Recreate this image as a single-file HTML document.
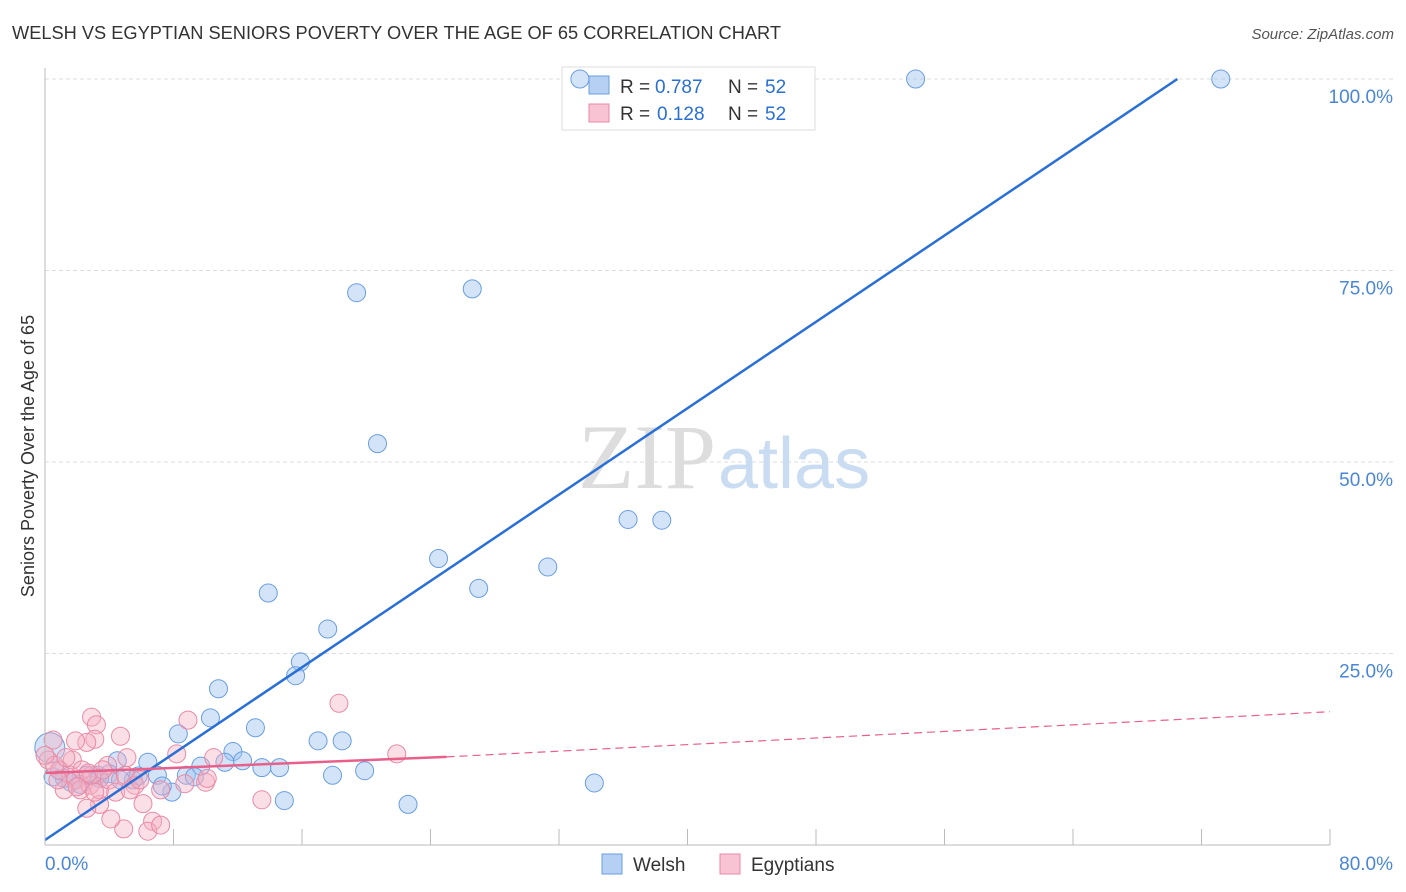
<!DOCTYPE html>
<html><head><meta charset="utf-8"><style>
body{margin:0;background:#fff;font-family:"Liberation Sans",sans-serif}
</style></head><body>
<svg width="1406" height="892" xmlns="http://www.w3.org/2000/svg" style="display:block" font-family="Liberation Sans, sans-serif" id="chart">
<text x="12" y="39" font-size="18" fill="#333" textLength="769" lengthAdjust="spacingAndGlyphs">WELSH VS EGYPTIAN SENIORS POVERTY OVER THE AGE OF 65 CORRELATION CHART</text>
<text x="1394" y="39" font-size="15" fill="#555" font-style="italic" text-anchor="end">Source: ZipAtlas.com</text>
<g id="grid"></g>
<text x="716" y="488" font-size="92" fill="#ddd" text-anchor="end" font-family="Liberation Serif, serif">ZIP</text>
<text x="718" y="488" font-size="72" fill="#c9dcf2">atlas</text>
<g>
<rect x="562" y="67" width="253" height="63" fill="#fff" stroke="#ddd"/>
<rect x="589" y="76" width="20" height="18" fill="#b5d0f3" stroke="#6a9ee0"/>
<rect x="589" y="104" width="20" height="18" fill="#f8c3d2" stroke="#e88aa5"/>
<text x="620" y="93" font-size="19" fill="#333">R =</text>
<text x="655" y="93" font-size="19" fill="#2a6fd6">0.787</text>
<text x="728" y="93" font-size="19" fill="#333">N =</text>
<text x="765" y="93" font-size="19" fill="#2a6fd6">52</text>
<text x="620" y="120" font-size="19" fill="#333">R =</text>
<text x="657" y="120" font-size="19" fill="#2a6fd6">0.128</text>
<text x="728" y="120" font-size="19" fill="#333">N =</text>
<text x="765" y="120" font-size="19" fill="#2a6fd6">52</text>
</g>
<g id="pts"></g>
<g id="lines"></g>
<g id="axes"></g>
<text x="34" y="456" font-size="18" fill="#333" text-anchor="middle" transform="rotate(-90 34 456)">Seniors Poverty Over the Age of 65</text>
<g>
<rect x="602" y="854" width="20" height="20" fill="#b5d0f3" stroke="#6a9ee0"/>
<text x="633" y="871" font-size="19" fill="#333">Welsh</text>
<rect x="720" y="854" width="20" height="20" fill="#f8c3d2" stroke="#e88aa5"/>
<text x="751" y="871" font-size="19" fill="#333">Egyptians</text>
</g>
</svg>
<script>
const yTicks=[25,50,75,100];
const yTickLabels=["25.0%","50.0%","75.0%","100.0%"];
const xTickLabels=["0.0%","80.0%"];
const welshX=[33.3,54.2,73.2,19.4,26.6,20.7,36.3,38.4,24.5,31.3,27.0,13.9,17.6,15.9,15.6,10.8,8.3,10.3,13.1,17.0,18.5,6.4,4.5,11.7,12.3,13.5,14.6,11.2,9.7,8.8,7.0,5.5,5.8,3.3,4.0,2.6,1.2,0.3,0.5,9.3,7.9,7.3,17.9,19.9,14.9,22.6,34.2,1.6,2.2,3.4,4.7,0.9];
const welshY=[100,100,100,72.1,72.6,52.4,42.5,42.4,37.4,36.3,33.5,32.9,28.2,23.9,22.1,20.4,14.5,16.6,15.3,13.6,13.6,10.8,11.0,12.2,11.0,10.1,10.1,10.8,10.3,9.1,9.1,8.5,9.0,9.1,9.3,9.1,8.7,12.7,8.9,8.9,6.9,7.7,9.1,9.7,5.8,5.3,8.1,8.2,7.9,8.7,8.5,9.7];
const egX=[2.9,3.2,3.1,2.6,4.7,1.9,8.9,8.2,18.3,21.9,10.5,10.0,13.5,6.1,6.7,4.9,6.4,7.2,4.1,3.4,2.6,0.5,0.2,0.9,1.6,1.9,2.2,2.8,3.4,4.0,5.0,5.6,1.2,0.6,3.9,5.1,10.1,8.7,1.7,2.3,2.9,3.1,4.4,0.0,0.8,1.3,2.0,2.7,3.6,5.3,5.9,7.2];
const egY=[16.7,15.7,13.8,13.4,14.2,13.6,16.3,11.9,18.5,11.9,11.4,8.2,5.9,5.4,3.1,2.1,1.8,2.6,3.4,5.3,4.8,13.7,11.1,9.8,9.1,8.5,7.2,7.8,7.2,8.5,9.1,7.8,7.2,10.4,10.4,11.4,8.7,8.0,11.1,9.8,9.1,6.9,6.9,11.7,8.5,11.4,7.6,9.4,9.8,7.2,8.5,7.2];
const blueLine=[[0,0.65],[70.5,100]];
const pinkSolid=[[0,9.4],[25,11.5]];
const pinkDash=[[25,11.5],[80,17.4]];
const NS="http://www.w3.org/2000/svg";
const xs=v=>45+v*(1330-45)/80;
const ys=v=>845-v*(845-79)/100;
function mk(tag,attrs,parent){const e=document.createElementNS(NS,tag);for(const k in attrs)e.setAttribute(k,attrs[k]);parent.appendChild(e);return e;}
const grid=document.getElementById('grid'),axes=document.getElementById('axes'),pts=document.getElementById('pts'),lines=document.getElementById('lines');
yTicks.forEach((t,i)=>{
  const l=mk('line',{x1:45,x2:1393,y1:ys(t),y2:ys(t),stroke:'#ddd','stroke-dasharray':'4 3'},grid);
  
  
  const tx=mk('text',{x:1393,y:ys(t)+24,'font-size':19,fill:'#4a86d8','text-anchor':'end'},axes);
  tx.textContent=yTickLabels[i];
  
  
});
const ax=mk('line',{x1:45,x2:1330,y1:845,y2:845,stroke:'#bbb'},axes);


const ay=mk('line',{x1:45,x2:45,y1:68,y2:845,stroke:'#bbb'},axes);


for(let i=1;i<=10;i++){
  const tk=mk('line',{x1:xs(i*8),x2:xs(i*8),y1:829,y2:845,stroke:'#bbb'},axes);
  
  
}
[[0,'start',45],[80,'end',1393]].forEach((a,i)=>{
  const t=mk('text',{x:a[2],y:870,'font-size':19,fill:'#4a86d8','text-anchor':a[1]},axes);
  t.textContent=xTickLabels[i];
  
  
});
welshX.forEach((x,i)=>{
  const r=(x<0.5&&welshY[i]>12)?15:9;
  const c=mk('circle',{cx:xs(x),cy:ys(welshY[i]),r:r,fill:'rgba(160,195,240,0.45)',stroke:'#6a9ee0','stroke-width':1},pts);
  
  
});
egX.forEach((x,i)=>{
  const c=mk('circle',{cx:xs(x),cy:ys(egY[i]),r:9,fill:'rgba(245,175,195,0.4)',stroke:'#e88aa5','stroke-width':1},pts);
  
  
});
const bl=mk('line',{x1:xs(blueLine[0][0]),y1:ys(blueLine[0][1]),x2:xs(blueLine[1][0]),y2:ys(blueLine[1][1]),stroke:'#2a6fd6','stroke-width':2.5},lines);


const ps=mk('line',{x1:xs(pinkSolid[0][0]),y1:ys(pinkSolid[0][1]),x2:xs(pinkSolid[1][0]),y2:ys(pinkSolid[1][1]),stroke:'#e8608a','stroke-width':2.5},lines);


const pd=mk('line',{x1:xs(pinkDash[0][0]),y1:ys(pinkDash[0][1]),x2:xs(pinkDash[1][0]),y2:ys(pinkDash[1][1]),stroke:'#e8608a','stroke-width':1.2,'stroke-dasharray':'8 5'},lines);


</script>
</body></html>
